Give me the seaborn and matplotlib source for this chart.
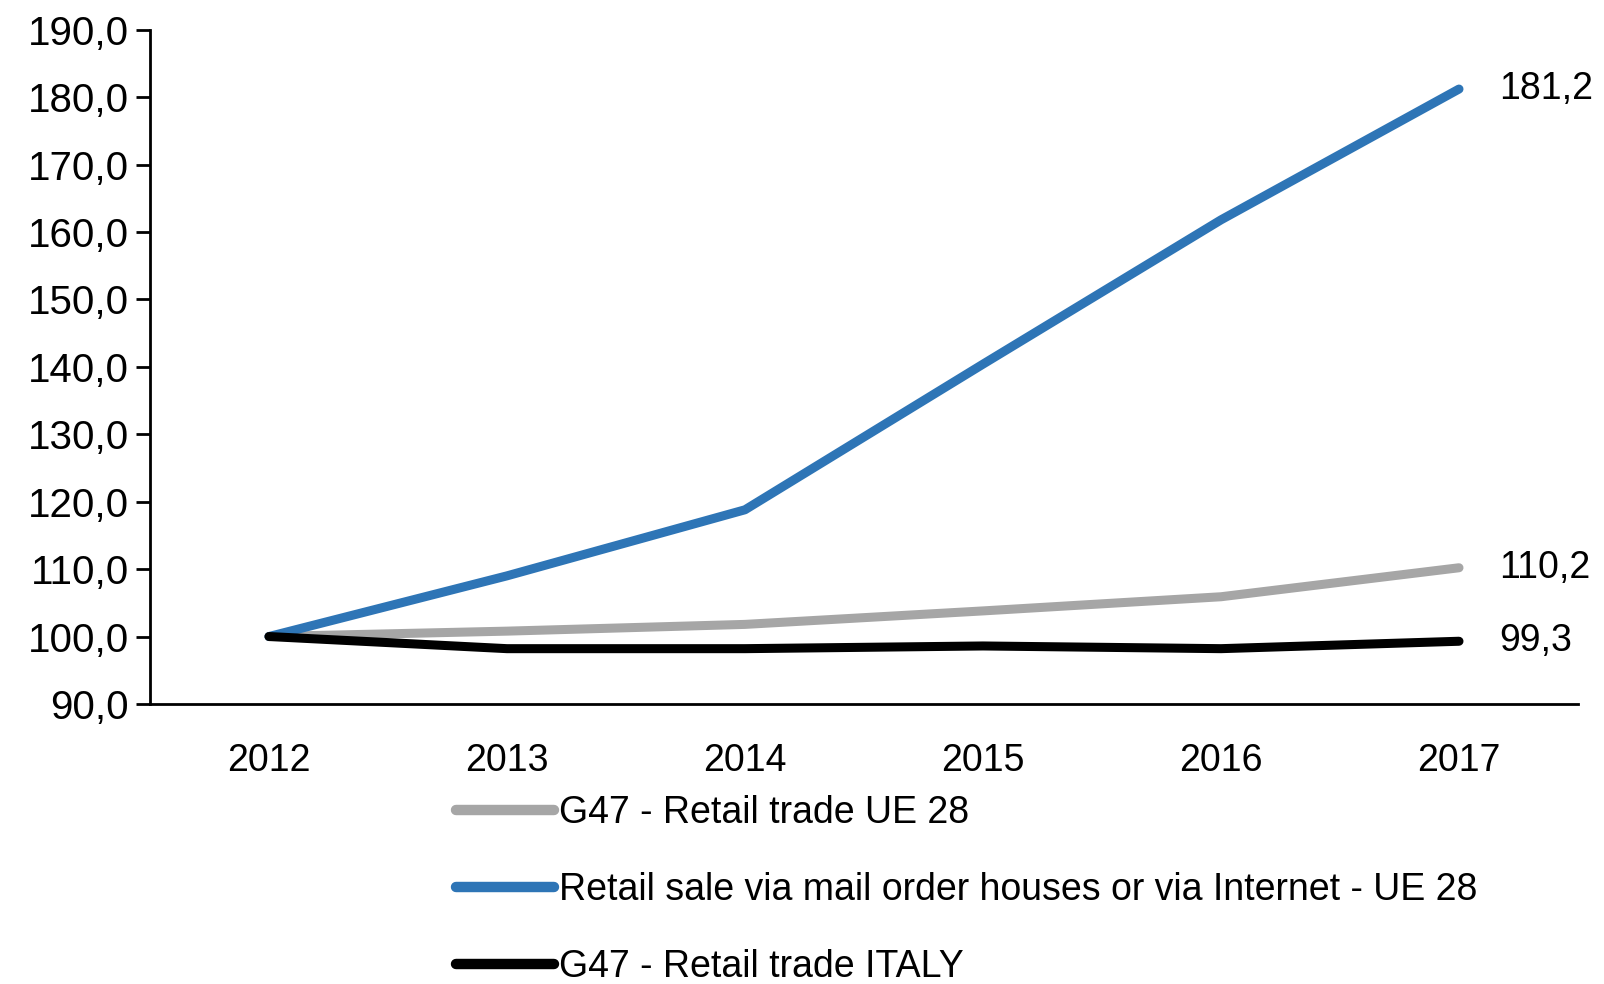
import matplotlib
matplotlib.use('Agg')
import matplotlib.pyplot as plt
from matplotlib.ticker import FixedLocator, FuncFormatter
import seaborn as sns
import pandas as pd

years = ['2012', '2013', '2014', '2015', '2016', '2017']
retail_ue28 = [100.0, 100.8, 101.8, 103.8, 105.9, 110.2]
internet_ue28 = [100.0, 109.0, 118.8, 140.4, 161.8, 181.2]
retail_italy = [100.0, 98.2, 98.2, 98.6, 98.2, 99.3]

series_names = ['G47 - Retail trade UE 28',
				'Retail sale via mail order houses or via Internet - UE 28',
				'G47 - Retail trade ITALY']
series_colors = ['#A6A6A6', '#2E75B6', '#000000']
end_labels = ['110,2', '181,2', '99,3']

rows = []
for name, vals in zip(series_names, [retail_ue28, internet_ue28, retail_italy]):
	for i, v in enumerate(vals):
		rows.append({'pos': i, 'value': v, 'series': name})
frame = pd.DataFrame(rows)

sns.set_style('white')
plt.rcParams['font.family'] = ['Liberation Sans', 'DejaVu Sans']
plt.rcParams['text.color'] = 'black'
plt.rcParams['xtick.color'] = 'black'
plt.rcParams['ytick.color'] = 'black'
FS = 27

fig = plt.figure(figsize=(16.04, 9.84), dpi=100)
ax = fig.add_axes([0.0935, 0.2846, 0.8903, 0.6852])

sns.lineplot(data=frame, x='pos', y='value', hue='series', hue_order=series_names,
			 palette=dict(zip(series_names, series_colors)), linewidth=6.5,
			 ax=ax, legend=True, solid_capstyle='round')

ax.set_xlim(-0.5, 5.5)
ax.set_ylim(90, 190)
ax.set_xlabel('')
ax.set_ylabel('')

# x: labels at centers, ticks at category boundaries
ax.xaxis.set_major_locator(FixedLocator(range(len(years))))
ax.set_xticklabels(years)
ax.xaxis.set_minor_locator(FixedLocator([i - 0.5 for i in range(len(years) + 1)]))
ax.tick_params(axis='x', which='major', length=0, pad=28, labelsize=FS)
ax.tick_params(axis='x', which='minor', length=14, width=2, direction='out')

ax.yaxis.set_major_locator(FixedLocator(range(90, 191, 10)))
ax.yaxis.set_major_formatter(FuncFormatter(lambda v, p: f'{v:.1f}'.replace('.', ',')))
ax.tick_params(axis='y', length=10, width=2, direction='out', pad=5, labelsize=29, left=True)

for side in ['top', 'right']:
	ax.spines[side].set_visible(False)
for side in ['left', 'bottom']:
	ax.spines[side].set_linewidth(2)
	ax.spines[side].set_color('black')

last_vals = [retail_ue28[-1], internet_ue28[-1], retail_italy[-1]]
for val, lab in zip(last_vals, end_labels):
	ax.text(5.17, val, lab, fontsize=FS, va='center', ha='left', clip_on=False)

leg = ax.legend(loc='upper left', bbox_to_anchor=(456 / 1604, 1 - 795 / 984),
				bbox_transform=fig.transFigure, frameon=False, fontsize=FS,
				handlelength=2.6, handletextpad=0.15, labelspacing=1.09,
				borderaxespad=0, borderpad=0)
for h in leg.get_lines():
	h.set_linewidth(7.5)
	h.set_solid_capstyle('round')

fig.savefig('out.png', dpi=100)
